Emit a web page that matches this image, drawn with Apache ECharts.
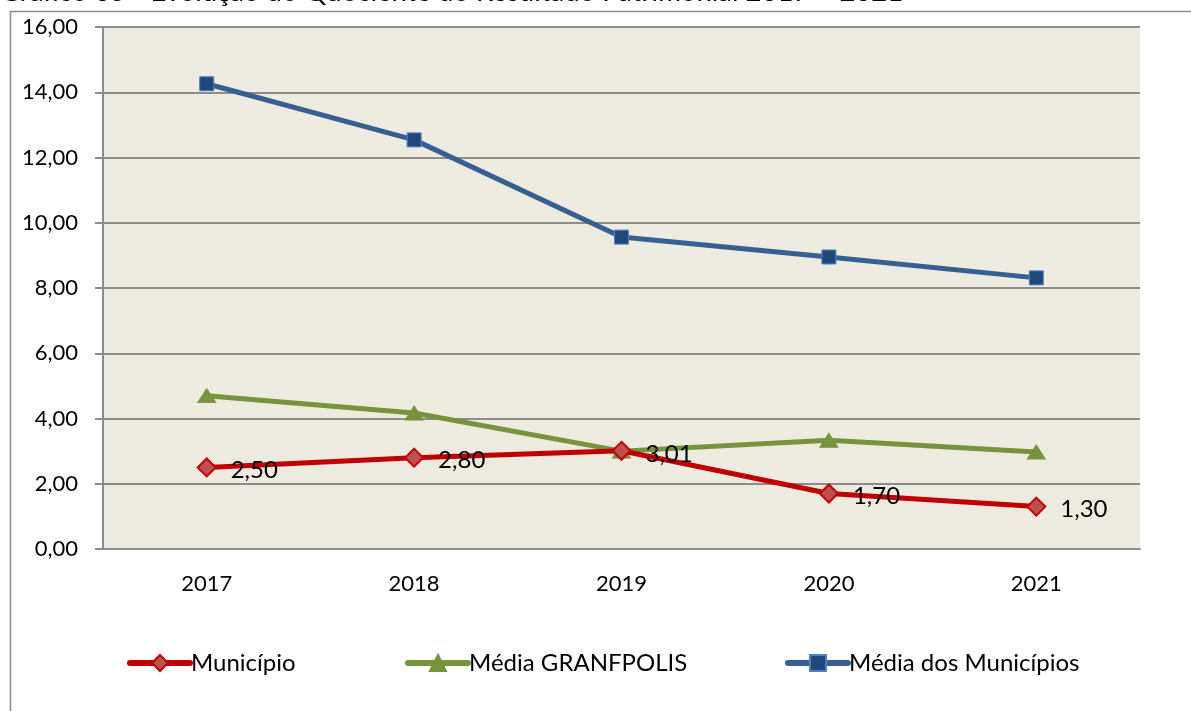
<!DOCTYPE html>
<html>
<head>
  <meta charset="utf-8">
  <script src="https://cdn.jsdelivr.net/npm/echarts@6/dist/echarts.min.js"></script>
  <style>
    html, body { margin: 0; padding: 0; background: #ffffff; }
  </style>
  <title>Quociente do Resultado Patrimonial</title>
  <script type="text/javascript">

    // data
    const years = ['2017', '2018', '2019', '2020', '2021'];
    const municipio = [2.50, 2.80, 3.01, 1.70, 1.30];
    const mediaGranfpolis = [4.70, 4.17, 3.00, 3.33, 2.97];
    const mediaMunicipios = [14.26, 12.54, 9.56, 8.95, 8.31];
    const yTicks = ['0,00', '2,00', '4,00', '6,00', '8,00', '10,00', '12,00', '14,00', '16,00'];

    const FONT = 'Lato, "Open Sans", sans-serif';

    function fmt(v) {
      return v.toFixed(2).replace('.', ',');
    }

    function init() {
      const chart = echarts.init(document.getElementById('main'), null, { renderer: 'canvas' });
      const option = {
        animation: false,
        backgroundColor: '#ffffff',
        textStyle: { fontFamily: FONT },
        graphic: [
          {
            type: 'rect', z: -10,
            shape: { x: 10.5, y: 11.5, width: 1200, height: 720 },
            style: { fill: '#ffffff', stroke: '#8c8c8c', lineWidth: 1.5 }
          },
          {
            type: 'text', left: 0, top: -22,
            style: {
              text: 'Gráfico 05 - Evolução do Quociente do Resultado Patrimonial 2017 – 2021',
              font: '27.5px ' + FONT, fill: '#000'
            }
          }
        ],
        grid: { left: 103, right: 51, top: 27, bottom: 162, containLabel: false,
                show: true, backgroundColor: '#edeae0', borderWidth: 0 },
        legend: [
          { data: ['Município'], left: 122, top: 646 },
          { data: ['Média GRANFPOLIS'], left: 400, top: 646 },
          { data: ['Média dos Municípios'], left: 780, top: 646 }
        ].map(l => Object.assign(l, {
          itemWidth: 60, itemHeight: 20, itemGap: 0,
          lineStyle: { width: 6, cap: 'round' },
          textStyle: { fontSize: 24, color: '#000', fontFamily: FONT, padding: [0, 0, 0, -4] }
        })),
        xAxis: {
          type: 'category',
          data: years,
          boundaryGap: true,
          axisLine: { show: true, lineStyle: { color: '#8c8c8c', width: 2 } },
          axisTick: { show: false },
          axisLabel: { fontSize: 22, color: '#000', margin: 24, fontFamily: FONT }
        },
        yAxis: {
          type: 'value',
          min: 0, max: 16, interval: 2,
          axisLine: { show: true, lineStyle: { color: '#8c8c8c', width: 2 } },
          axisTick: { show: true, length: 8, lineStyle: { color: '#8c8c8c', width: 2 } },
          splitLine: { show: true, lineStyle: { color: '#8c8c8c', width: 2 } },
          axisLabel: {
            fontSize: 22, color: '#000', margin: 25, fontFamily: FONT,
            formatter: v => yTicks[Math.round(v / 2)]
          }
        },
        series: [
          {
            name: 'Município', type: 'line', data: municipio, z: 4,
            symbol: 'diamond', symbolSize: 18,
            lineStyle: { color: '#c00000', width: 5 },
            itemStyle: { color: '#c0504d', borderColor: '#c00000', borderWidth: 2 },
            label: {
              show: true, position: 'right', distance: 14, offset: [0, 3],
              fontSize: 24, color: '#000', fontFamily: FONT,
              formatter: p => fmt(p.value)
            }
          },
          {
            name: 'Média GRANFPOLIS', type: 'line', data: mediaGranfpolis, z: 3,
            symbol: 'triangle', symbolSize: [18, 14],
            lineStyle: { color: '#77933c', width: 5 },
            itemStyle: { color: '#77933c', borderColor: '#77933c', borderWidth: 1 }
          },
          {
            name: 'Média dos Municípios', type: 'line', data: mediaMunicipios, z: 3,
            symbol: 'rect', symbolSize: 14,
            lineStyle: { color: '#376092', width: 5 },
            itemStyle: { color: '#1f497d', borderColor: '#4f81bd', borderWidth: 1 }
          }
        ]
      };
      chart.setOption(option);
    }
  </script>
</head>
<body onload="init()">
  <div id="main" style="width: 1191px; height: 711px;"></div>
</body>
</html>
